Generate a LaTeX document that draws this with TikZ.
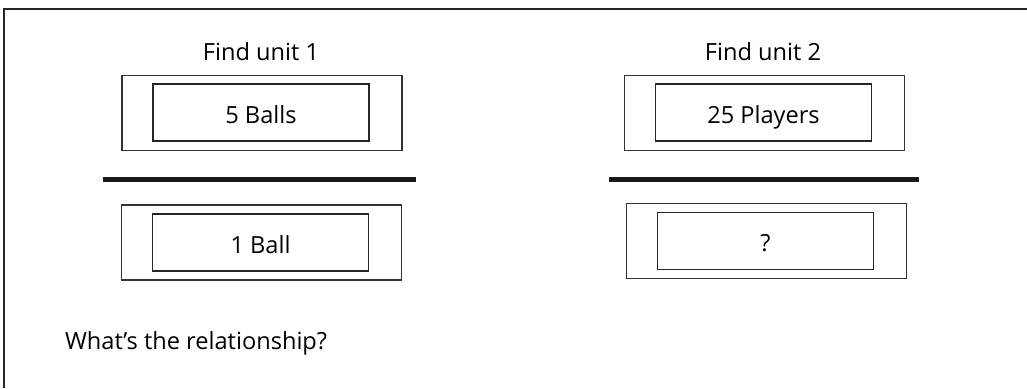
\documentclass[tikz,border=0pt]{standalone}
\usepackage{fontspec}
\setmainfont{Open Sans}

\begin{document}
\begin{tikzpicture}[x=0.5pt,y=-0.5pt,
    font=\fontsize{11.8}{13}\selectfont,
    outerbox/.style={draw=black!80,line width=0.6pt,minimum width=140pt,minimum height=37.5pt},
    innerbox/.style={draw=black!85,line width=0.6pt,minimum width=108pt,minimum height=28.5pt,
        text height=10.9pt,text depth=0pt},
    divider/.style={black!90,line width=2.5pt}]
    \useasboundingbox (0,0) rectangle (1027,388);
    % frame
    \draw[black!85,line width=0.7pt] (4,388) -- (4,9) -- (1027,9);
    % unit 1
    \node (title1) at (261,52) {Find unit 1};
    \node[outerbox] (top1) at (262,113) {};
    \node[innerbox] (num1) at (261,112.5) {5 Balls};
    \draw[divider] (103,179) -- (416,179);
    \node[outerbox] (bot1) at (261.5,242.5) {};
    \node[innerbox] (den1) at (260.5,242.5) {1 Ball};
    % unit 2
    \node (title2) at (763,52) {Find unit 2};
    \node[outerbox] (top2) at (764.5,113) {};
    \node[innerbox] (num2) at (763.5,112.5) {25 Players};
    \draw[divider] (609,179.5) -- (919,179.5);
    \node[outerbox] (bot2) at (766.5,241) {};
    \node[innerbox] (den2) at (765.5,241) {?};
    \node[anchor=west] (question) at (58,343) {What’s the relationship?};
\end{tikzpicture}
\end{document}
